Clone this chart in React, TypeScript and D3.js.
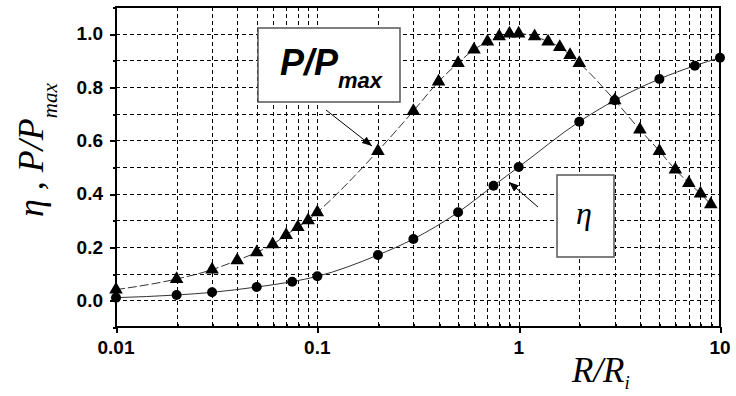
import * as d3 from 'd3';

const powerR = [0.01, 0.02, 0.03, 0.04, 0.05, 0.06, 0.07, 0.08, 0.09, 0.1, 0.2, 0.3, 0.4, 0.5, 0.6, 0.7, 0.8, 0.9, 1, 1.2, 1.4, 1.6, 1.8, 2, 3, 4, 5, 6, 7, 8, 9];
const powerVal = [0.04, 0.08, 0.115, 0.15, 0.18, 0.21, 0.245, 0.275, 0.30, 0.33, 0.56, 0.71, 0.82, 0.89, 0.94, 0.97, 0.99, 1.0, 1.0, 0.99, 0.97, 0.95, 0.92, 0.89, 0.75, 0.64, 0.56, 0.49, 0.44, 0.40, 0.36];

const effR = [0.01, 0.02, 0.03, 0.05, 0.075, 0.1, 0.2, 0.3, 0.5, 0.75, 1, 2, 3, 5, 7.5, 10];
const effVal = [0.01, 0.02, 0.03, 0.05, 0.07, 0.09, 0.17, 0.23, 0.33, 0.43, 0.5, 0.67, 0.75, 0.83, 0.88, 0.91];

const yLabels = ['0.0', '0.2', '0.4', '0.6', '0.8', '1.0'];
const xLabels = ['0.01', '0.1', '1', '10'];

const W = 736;
const H = 396;
const left = 116, right = 720, top = 7, bottom = 327;

export default function App() {
  const x = d3.scaleLog().domain([0.01, 10]).range([left, right]);
  const y = d3.scaleLinear().domain([-0.1, 1.1]).range([bottom, top]);

  const xGrid = x.ticks();
  const yGrid = d3.range(-1, 12).map(i => i / 10);

  const line = d3.line<[number, number]>()
    .x(d => x(d[0]))
    .y(d => y(d[1]))
    .curve(d3.curveMonotoneX);

  const powerPts = powerR.map((r, i) => [r, powerVal[i]] as [number, number]);
  const effPts = effR.map((r, i) => [r, effVal[i]] as [number, number]);
  const tri = d3.symbol().type(d3.symbolTriangle).size(80)() || '';

  const isMajor = (v: number) => Math.abs(Math.log10(v) - Math.round(Math.log10(v))) < 1e-6;
  const px = (v: number) => Math.round(v) + 0.5;
  const tickFont = { fontFamily: '"Liberation Sans", Arial, sans-serif', fontWeight: 700, fontSize: 19 };
  const serif = '"Liberation Serif", "Times New Roman", serif';

  return (
    <svg width={W} height={H} style={{ position: 'absolute', left: 0, top: 0, background: '#fff' }}>
      <defs>
        <marker id="arr" viewBox="0 0 10 8" refX="10" refY="4" markerWidth="10" markerHeight="8" markerUnits="userSpaceOnUse" orient="auto">
          <path d="M0,0 L10,4 L0,8 Z" fill="#000" />
        </marker>
      </defs>

      {/* grid */}
      <g stroke="#000" strokeWidth={1} strokeDasharray="4,3" shapeRendering="crispEdges">
        {xGrid.filter(v => v > 0.01 && v < 10).map(v => (
          <line key={'gx' + v} x1={px(x(v))} x2={px(x(v))} y1={top} y2={bottom} />
        ))}
        {yGrid.filter(v => v > -0.05 && v < 1.05).map(v => (
          <line key={'gy' + v} x1={left} x2={right} y1={px(y(v))} y2={px(y(v))} />
        ))}
      </g>

      {/* frame */}
      <rect x={left} y={top} width={right - left} height={bottom - top} fill="none" stroke="#000" strokeWidth={2} shapeRendering="crispEdges" />

      {/* ticks */}
      <g stroke="#000" strokeWidth={2} shapeRendering="crispEdges">
        {yGrid.map((v, i) => (
          <line key={'ty' + i} x1={left - (i % 2 === 1 ? 6 : 3)} x2={left} y1={px(y(v))} y2={px(y(v))} />
        ))}
        {xGrid.map(v => isMajor(v)
          ? <line key={'tx' + v} x1={px(x(v))} x2={px(x(v))} y1={bottom} y2={bottom + 6} />
          : <line key={'tx' + v} x1={px(x(v))} x2={px(x(v))} y1={bottom - 3} y2={bottom} />)}
      </g>

      <g {...tickFont} fill="#000">
        {yLabels.map(l => (
          <text key={l} x={103} y={y(+l)} textAnchor="end" dominantBaseline="central">{l}</text>
        ))}
        {xLabels.map(l => (
          <text key={l} x={x(+l)} y={354} textAnchor="middle">{l}</text>
        ))}
      </g>

      {/* curves */}
      <path d={line(effPts) || ''} fill="none" stroke="#333" strokeWidth={1} />
      <path d={line(powerPts) || ''} fill="none" stroke="#333" strokeWidth={1} strokeDasharray="9,3" />

      {effPts.map((d, i) => (
        <circle key={'c' + i} cx={x(d[0])} cy={y(d[1])} r={5} fill="#000" />
      ))}
      {powerPts.map((d, i) => (
        <path key={'t' + i} d={tri} transform={`translate(${x(d[0])},${y(d[1])})`} fill="#000" />
      ))}

      {/* annotation boxes */}
      <rect x={258} y={28} width={142} height={74} fill="#fff" stroke="#555" strokeWidth={1.5} />
      <text x={280} y={75} fontFamily='"Liberation Sans", Arial, sans-serif' fontWeight={700} fontStyle="italic" fontSize={36}>
        P/P<tspan fontSize={22} dy={13}>max</tspan>
      </text>
      <line x1={326} y1={110} x2={372} y2={146} stroke="#000" strokeWidth={1} markerEnd="url(#arr)" />

      <rect x={557} y={175} width={57} height={82} fill="#fff" stroke="#555" strokeWidth={1.5} />
      <text x={584} y={224} textAnchor="middle" fontFamily={serif} fontStyle="italic" fontSize={32}>η</text>
      <line x1={538} y1={207} x2={509} y2={182} stroke="#000" strokeWidth={1} markerEnd="url(#arr)" />

      {/* axis titles */}
      <text transform="translate(43,217) rotate(-90)" fontFamily={serif} fontStyle="italic" fontSize={36}>
        η , P/P<tspan fontSize={21} dy={14}>max</tspan>
      </text>
      <text x={572} y={382} fontFamily={serif} fontStyle="italic" fontSize={35}>
        R/R<tspan fontSize={19} dy={7}>i</tspan>
      </text>
    </svg>
  );
}
